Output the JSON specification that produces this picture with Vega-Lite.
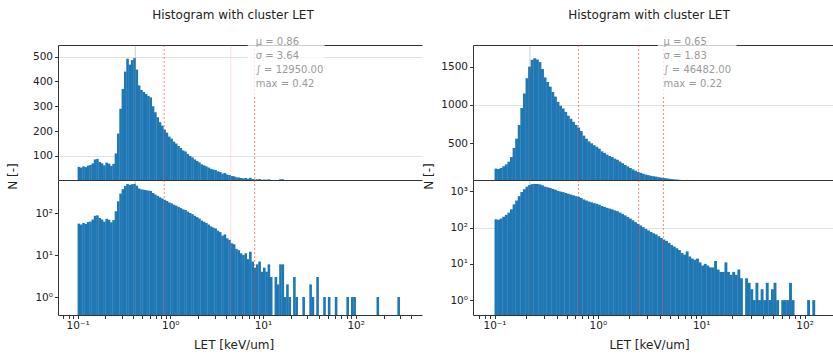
{
 "$schema": "https://vega.github.io/schema/vega-lite/v6.json",
 "autosize": {"type": "pad"},
 "padding": {"left": 6, "top": 9, "right": 0, "bottom": 0},
 "background": "white",
 "spacing": 0,
 "config": {
  "font": "DejaVu Sans",
  "view": {"stroke": null},
  "axis": {"labelFont": "DejaVu Sans", "labelFontSize": 10.5, "labelColor": "#222222", "titleFont": "DejaVu Sans", "titleFontSize": 12, "titleFontWeight": "normal", "titleColor": "#222222", "domainColor": "#333333", "tickColor": "#333333", "tickSize": 3.5, "grid": false, "labelPadding": 2, "zindex": 1, "labelOverlap": false},
  "title": {"font": "DejaVu Sans", "fontSize": 12, "fontWeight": "normal", "color": "#222222"}
 },
 "datasets": {
  "L": [
   {"a":0.1,"n":56},{"a":0.10593,"n":53},{"a":0.1122,"n":58},{"a":0.11885,"n":55},{"a":0.12589,"n":61},{"a":0.13335,"n":63},{"a":0.14125,"n":70},{"a":0.14962,"n":86},{"a":0.15849,"n":88},{"a":0.16788,"n":76},
   {"a":0.17783,"n":70},{"a":0.18836,"n":62},{"a":0.19953,"n":73},{"a":0.21135,"n":69},{"a":0.22387,"n":60},{"a":0.23714,"n":68},{"a":0.25119,"n":110},{"a":0.26607,"n":190},{"a":0.28184,"n":290},{"a":0.29854,"n":370},
   {"a":0.31623,"n":440},{"a":0.33497,"n":492},{"a":0.35481,"n":468},{"a":0.37584,"n":486},{"a":0.39811,"n":494},{"a":0.4217,"n":448},{"a":0.44668,"n":384},{"a":0.47315,"n":366},{"a":0.50119,"n":358},{"a":0.53088,"n":350},
   {"a":0.56234,"n":342},{"a":0.59566,"n":336},{"a":0.63096,"n":300},{"a":0.66834,"n":276},{"a":0.70795,"n":256},{"a":0.74989,"n":236},{"a":0.79433,"n":222},{"a":0.8414,"n":206},{"a":0.89125,"n":194},{"a":0.94406,"n":178},
   {"a":1,"n":170},{"a":1.0593,"n":158},{"a":1.122,"n":150},{"a":1.1885,"n":140},{"a":1.2589,"n":132},{"a":1.3335,"n":122},{"a":1.4125,"n":118},{"a":1.4962,"n":108},{"a":1.5849,"n":100},{"a":1.6788,"n":94},
   {"a":1.7783,"n":86},{"a":1.8836,"n":80},{"a":1.9953,"n":74},{"a":2.1135,"n":66},{"a":2.2387,"n":62},{"a":2.3714,"n":58},{"a":2.5119,"n":53},{"a":2.6607,"n":48},{"a":2.8184,"n":45},{"a":2.9854,"n":43},
   {"a":3.1623,"n":38},{"a":3.3497,"n":35},{"a":3.5481,"n":29},{"a":3.7584,"n":31},{"a":3.9811,"n":25},{"a":4.217,"n":23},{"a":4.4668,"n":19},{"a":4.7315,"n":18},{"a":5.0119,"n":14},{"a":5.3088,"n":13},
   {"a":5.6234,"n":11},{"a":5.9566,"n":10},{"a":6.3096,"n":11},{"a":6.6834,"n":8},{"a":7.0795,"n":12},{"a":7.4989,"n":7},{"a":7.9433,"n":5},{"a":8.414,"n":6},{"a":8.9125,"n":7},{"a":9.4406,"n":4},
   {"a":10,"n":5},{"a":10.593,"n":4},{"a":11.22,"n":6},{"a":11.885,"n":3},{"a":13.335,"n":3},{"a":14.125,"n":2},{"a":14.962,"n":6},{"a":15.849,"n":6},{"a":16.788,"n":1},{"a":17.783,"n":2},
   {"a":18.836,"n":1},{"a":21.135,"n":3},{"a":22.387,"n":1},{"a":26.607,"n":1},{"a":31.623,"n":2},{"a":33.497,"n":1},{"a":37.584,"n":3},{"a":44.668,"n":1},{"a":50.119,"n":1},{"a":59.566,"n":1},
   {"a":79.433,"n":1},{"a":89.125,"n":1},{"a":94.406,"n":1},{"a":167.88,"n":1},{"a":281.84,"n":1}
  ],
  "R": [
   {"a":0.1,"n":170},{"a":0.10593,"n":165},{"a":0.1122,"n":178},{"a":0.11885,"n":200},{"a":0.12589,"n":225},{"a":0.13335,"n":260},{"a":0.14125,"n":320},{"a":0.14962,"n":440},{"a":0.15849,"n":560},{"a":0.16788,"n":740},
   {"a":0.17783,"n":960},{"a":0.18836,"n":1150},{"a":0.19953,"n":1350},{"a":0.21135,"n":1500},{"a":0.22387,"n":1590},{"a":0.23714,"n":1610},{"a":0.25119,"n":1595},{"a":0.26607,"n":1560},{"a":0.28184,"n":1470},{"a":0.29854,"n":1360},
   {"a":0.31623,"n":1300},{"a":0.33497,"n":1240},{"a":0.35481,"n":1170},{"a":0.37584,"n":1110},{"a":0.39811,"n":1040},{"a":0.4217,"n":990},{"a":0.44668,"n":955},{"a":0.47315,"n":910},{"a":0.50119,"n":860},{"a":0.53088,"n":820},
   {"a":0.56234,"n":780},{"a":0.59566,"n":740},{"a":0.63096,"n":705},{"a":0.66834,"n":660},{"a":0.70795,"n":600},{"a":0.74989,"n":560},{"a":0.79433,"n":525},{"a":0.8414,"n":500},{"a":0.89125,"n":475},{"a":0.94406,"n":455},
   {"a":1,"n":430},{"a":1.0593,"n":395},{"a":1.122,"n":375},{"a":1.1885,"n":352},{"a":1.2589,"n":335},{"a":1.3335,"n":320},{"a":1.4125,"n":300},{"a":1.4962,"n":285},{"a":1.5849,"n":262},{"a":1.6788,"n":240},
   {"a":1.7783,"n":218},{"a":1.8836,"n":198},{"a":1.9953,"n":178},{"a":2.1135,"n":160},{"a":2.2387,"n":142},{"a":2.3714,"n":128},{"a":2.5119,"n":115},{"a":2.6607,"n":103},{"a":2.8184,"n":92},{"a":2.9854,"n":84},
   {"a":3.1623,"n":76},{"a":3.3497,"n":70},{"a":3.5481,"n":65},{"a":3.7584,"n":58},{"a":3.9811,"n":52},{"a":4.217,"n":47},{"a":4.4668,"n":43},{"a":4.7315,"n":38},{"a":5.0119,"n":33},{"a":5.3088,"n":30},
   {"a":5.6234,"n":27},{"a":5.9566,"n":24},{"a":6.3096,"n":20},{"a":6.6834,"n":18},{"a":7.0795,"n":22},{"a":7.4989,"n":16},{"a":7.9433,"n":14},{"a":8.414,"n":13},{"a":8.9125,"n":14},{"a":9.4406,"n":11},
   {"a":10,"n":9},{"a":10.593,"n":10},{"a":11.22,"n":9},{"a":11.885,"n":8},{"a":12.589,"n":8},{"a":13.335,"n":12},{"a":14.125,"n":7},{"a":14.962,"n":6},{"a":15.849,"n":6},{"a":16.788,"n":11},
   {"a":17.783,"n":6},{"a":18.836,"n":5},{"a":19.953,"n":6},{"a":21.135,"n":5},{"a":22.387,"n":7},{"a":23.714,"n":4},{"a":26.607,"n":4},{"a":28.184,"n":3},{"a":29.854,"n":2},{"a":31.623,"n":1},
   {"a":33.497,"n":3},{"a":35.481,"n":1},{"a":37.584,"n":2},{"a":39.811,"n":1},{"a":42.17,"n":3},{"a":44.668,"n":1},{"a":47.315,"n":2},{"a":50.119,"n":3},{"a":53.088,"n":1},{"a":59.566,"n":1},
   {"a":63.096,"n":1},{"a":66.834,"n":1},{"a":70.795,"n":3},{"a":74.989,"n":1},{"a":105.93,"n":1},{"a":118.85,"n":1}
  ],
  "Ls": [{"t":"mu","v":0.86},{"t":"s1","v":4.5},{"t":"s2","v":8.14},{"t":"max","v":0.42}],
  "Rs": [{"t":"mu","v":0.65},{"t":"s1","v":2.48},{"t":"s2","v":4.31},{"t":"max","v":0.22}]
 },
 "hconcat": [
  {
   "spacing": 0,
   "bounds": "flush",
   "vconcat": [
    {
     "width": 364, "height": 135,
     "title": {"text": "Histogram with cluster LET", "frame": "group", "anchor": "middle", "offset": 6, "baseline": "alphabetic", "dx": -7},
     "resolve": {"axis": {"x": "independent"}},
     "layer": [
      {"data": {"name": "L"}, "mark": {"type": "bar", "color": "#1f77b4", "size": 2.6, "xOffset": 1.3, "clip": true},
       "encoding": {
        "x": {"field": "a", "type": "quantitative", "scale": {"type": "log", "domain": [0.0696, 459], "nice": false}, "axis": {"orient": "top", "ticks": false, "labels": false, "title": null, "zindex": 0, "minExtent": 0, "maxExtent": 0}},
        "y": {"field": "n", "type": "quantitative", "stack": null, "scale": {"domain": [3, 547], "nice": false, "zero": false}, "axis": {"values": [100, 200, 300, 400, 500], "labelOverlap": false, "title": null, "zindex": 0, "grid": true, "gridColor": "#e2e2e2", "gridOpacity": {"condition": {"test": "datum.value == 100 || datum.value == 500", "value": 1}, "value": 0}}},
        "y2": {"datum": 0}}},
      {"data": {"name": "Ls"}, "transform": [{"filter": "datum.t == 'mu' || datum.t == 's2'"}], "mark": {"type": "rule", "color": "#ff2020", "opacity": 0.55, "strokeDash": [2, 2]}, "encoding": {"x": {"field": "v", "type": "quantitative", "axis": {"orient": "bottom", "ticks": false, "labels": false, "title": null, "minExtent": 0, "maxExtent": 0}}}},
      {"data": {"name": "Ls"}, "transform": [{"filter": "datum.t == 's1'"}], "mark": {"type": "rule", "color": "#ff6060", "opacity": 0.2}, "encoding": {"x": {"field": "v", "type": "quantitative", "axis": null}}},
      {"data": {"name": "Ls"}, "transform": [{"filter": "datum.t == 'max'"}], "mark": {"type": "rule", "color": "#777777", "opacity": 0.35}, "encoding": {"x": {"field": "v", "type": "quantitative", "axis": null}}},
      {"data": {"values": [{}]}, "mark": {"type": "rect", "fill": "white", "opacity": 0.75, "clip": false}, "encoding": {"x": {"datum": 6.86, "axis": null}, "x2": {"datum": 46.2}, "y": {"datum": 567, "axis": {"values": [100, 200, 300, 400, 500], "labelOverlap": false, "title": null, "zindex": 0}}, "y2": {"datum": 345}}},
      {"data": {"values": [{}]}, "mark": {"type": "text", "align": "left", "baseline": "top", "dx": 1, "dy": -8, "fontSize": 10, "lineHeight": 14, "color": "#9a9a9a", "clip": false, "text": ["μ = 0.86", "σ = 3.64", "∫ = 12950.00", "max = 0.42"]}, "encoding": {"x": {"datum": 8.14, "axis": null}, "y": {"datum": 547, "axis": {"values": [100, 200, 300, 400, 500], "labelOverlap": false, "title": null, "zindex": 0}}}}
     ]
    },
    {
     "width": 364, "height": 135,
     "layer": [
      {"data": {"name": "L"}, "mark": {"type": "bar", "color": "#1f77b4", "size": 2.6, "xOffset": 1.3, "clip": true},
       "encoding": {
        "x": {"field": "a", "type": "quantitative", "scale": {"type": "log", "domain": [0.0696, 459], "nice": false},
         "axis": {"values": [0.07,0.08,0.09,0.1,0.2,0.3,0.4,0.5,0.6,0.7,0.8,0.9,1,2,3,4,5,6,7,8,9,10,20,30,40,50,60,70,80,90,100,200,300,400], "labelExpr": "datum.value == 0.1 ? '10⁻¹' : datum.value == 1 ? '10⁰' : datum.value == 10 ? '10¹' : datum.value == 100 ? '10²' : datum.value == 1000 ? '10³' : ''", "labelOverlap": false, "labelFlush": false, "title": "LET [keV/um]", "titleX": 175.5, "titleY": 33, "titleBaseline": "alphabetic"}},
        "y": {"field": "n", "type": "quantitative", "stack": null, "scale": {"type": "log", "domain": [0.373, 611], "nice": false},
         "axis": {"values": [1, 10, 100], "labelExpr": "datum.value == 1 ? '10⁰' : datum.value == 10 ? '10¹' : datum.value == 100 ? '10²' : '10³'", "title": "N [-]", "titleAngle": -90, "titleX": -42, "titleY": -4, "titleAlign": "center", "titleBaseline": "alphabetic"}},
        "y2": {"datum": 0.01}}},
      {"data": {"name": "Ls"}, "transform": [{"filter": "datum.t == 'mu' || datum.t == 's2'"}], "mark": {"type": "rule", "color": "#ff2020", "opacity": 0.55, "strokeDash": [2, 2]}, "encoding": {"x": {"field": "v", "type": "quantitative"}}},
      {"data": {"name": "Ls"}, "transform": [{"filter": "datum.t == 's1'"}], "mark": {"type": "rule", "color": "#ff6060", "opacity": 0.2}, "encoding": {"x": {"field": "v", "type": "quantitative"}}},
      {"data": {"name": "Ls"}, "transform": [{"filter": "datum.t == 'max'"}], "mark": {"type": "rule", "color": "#777777", "opacity": 0.35}, "encoding": {"x": {"field": "v", "type": "quantitative"}}}
     ]
    }
   ]
  },
  {
   "spacing": 0,
   "bounds": "flush",
   "vconcat": [
    {
     "width": 360, "height": 135,
     "title": {"text": "Histogram with cluster LET", "frame": "group", "anchor": "middle", "offset": 6, "baseline": "alphabetic", "dx": -4},
     "resolve": {"axis": {"x": "independent"}},
     "layer": [
      {"data": {"name": "R"}, "mark": {"type": "bar", "color": "#1f77b4", "size": 2.9, "xOffset": 1.45, "clip": true},
       "encoding": {
        "x": {"field": "a", "type": "quantitative", "scale": {"type": "log", "domain": [0.0692, 168.6], "nice": false}, "axis": {"orient": "top", "ticks": false, "labels": false, "title": null, "zindex": 0, "minExtent": 0, "maxExtent": 0}},
        "y": {"field": "n", "type": "quantitative", "stack": null, "scale": {"domain": [21, 1783], "nice": false, "zero": false}, "axis": {"values": [500, 1000, 1500], "format": "d", "labelOverlap": false, "title": null, "zindex": 0, "grid": true, "gridColor": "#e2e2e2", "gridOpacity": {"condition": {"test": "datum.value == 1000", "value": 1}, "value": 0}}},
        "y2": {"datum": 0}}},
      {"data": {"name": "Rs"}, "transform": [{"filter": "datum.t != 'max'"}], "mark": {"type": "rule", "color": "#ff2020", "opacity": 0.55, "strokeDash": [2, 2]}, "encoding": {"x": {"field": "v", "type": "quantitative", "axis": {"orient": "bottom", "ticks": false, "labels": false, "title": null, "minExtent": 0, "maxExtent": 0}}}},
      {"data": {"name": "Rs"}, "transform": [{"filter": "datum.t == 'max'"}], "mark": {"type": "rule", "color": "#777777", "opacity": 0.35}, "encoding": {"x": {"field": "v", "type": "quantitative", "axis": null}}},
      {"data": {"values": [{}]}, "mark": {"type": "rect", "fill": "white", "opacity": 0.75, "clip": false}, "encoding": {"x": {"datum": 3.8, "axis": null}, "x2": {"datum": 22}, "y": {"datum": 1848, "axis": {"values": [500, 1000, 1500], "format": "d", "labelOverlap": false, "title": null, "zindex": 0}}, "y2": {"datum": 1130}}},
      {"data": {"values": [{}]}, "mark": {"type": "text", "align": "left", "baseline": "top", "dx": 0, "dy": -8, "fontSize": 10, "lineHeight": 14, "color": "#9a9a9a", "clip": false, "text": ["μ = 0.65", "σ = 1.83", "∫ = 46482.00", "max = 0.22"]}, "encoding": {"x": {"datum": 4.31, "axis": null}, "y": {"datum": 1783, "axis": {"values": [500, 1000, 1500], "format": "d", "labelOverlap": false, "title": null, "zindex": 0}}}}
     ]
    },
    {
     "width": 360, "height": 135,
     "layer": [
      {"data": {"name": "R"}, "mark": {"type": "bar", "color": "#1f77b4", "size": 2.9, "xOffset": 1.45, "clip": true},
       "encoding": {
        "x": {"field": "a", "type": "quantitative", "scale": {"type": "log", "domain": [0.0692, 168.6], "nice": false},
         "axis": {"values": [0.07,0.08,0.09,0.1,0.2,0.3,0.4,0.5,0.6,0.7,0.8,0.9,1,2,3,4,5,6,7,8,9,10,20,30,40,50,60,70,80,90,100], "labelExpr": "datum.value == 0.1 ? '10⁻¹' : datum.value == 1 ? '10⁰' : datum.value == 10 ? '10¹' : datum.value == 100 ? '10²' : datum.value == 1000 ? '10³' : ''", "labelOverlap": false, "labelFlush": false, "title": "LET [keV/um]", "titleX": 176, "titleY": 33, "titleBaseline": "alphabetic"}},
        "y": {"field": "n", "type": "quantitative", "stack": null, "scale": {"type": "log", "domain": [0.388, 2065], "nice": false},
         "axis": {"values": [1, 10, 100, 1000], "labelExpr": "datum.value == 1 ? '10⁰' : datum.value == 10 ? '10¹' : datum.value == 100 ? '10²' : '10³'", "title": "N [-]", "titleAngle": -90, "titleX": -41, "titleY": -4, "titleAlign": "center", "titleBaseline": "alphabetic", "zindex": 0, "grid": true, "gridColor": "#e2e2e2", "gridOpacity": {"condition": {"test": "datum.value == 100", "value": 1}, "value": 0}}},
        "y2": {"datum": 0.01}}},
      {"data": {"name": "Rs"}, "transform": [{"filter": "datum.t != 'max'"}], "mark": {"type": "rule", "color": "#ff2020", "opacity": 0.55, "strokeDash": [2, 2]}, "encoding": {"x": {"field": "v", "type": "quantitative"}}},
      {"data": {"name": "Rs"}, "transform": [{"filter": "datum.t == 'max'"}], "mark": {"type": "rule", "color": "#777777", "opacity": 0.35}, "encoding": {"x": {"field": "v", "type": "quantitative"}}}
     ]
    }
   ]
  }
 ]
}
